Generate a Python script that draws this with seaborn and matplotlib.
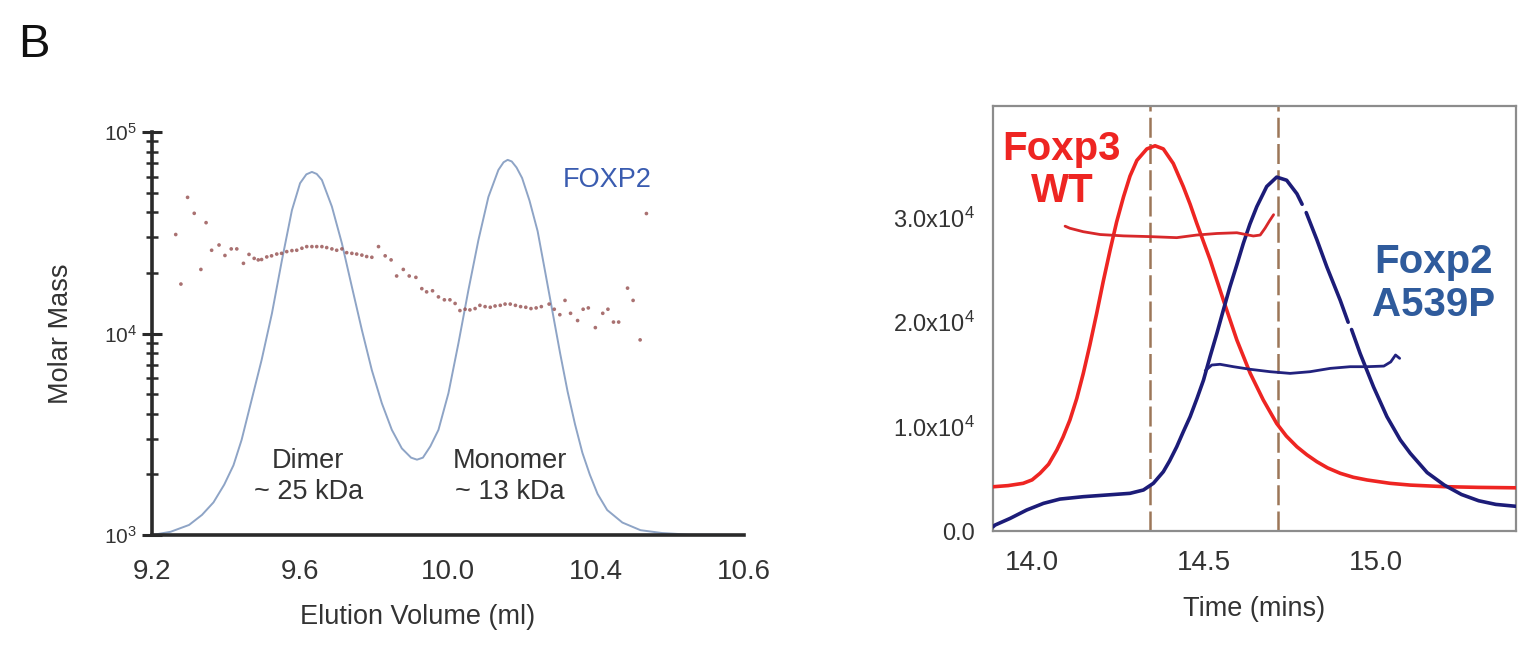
import numpy as np
import pandas as pd
import matplotlib
matplotlib.use("Agg")
import matplotlib.pyplot as plt
import seaborn as sns
from matplotlib.ticker import MultipleLocator, LogLocator, NullFormatter

# ---------------- data: left panel (FOXP2 SEC-MALS) ----------------
uv_volume = [9.20, 9.25, 9.30, 9.335, 9.366, 9.395, 9.42, 9.442, 9.469, 9.496, 9.524, 9.551,
             9.578, 9.60, 9.617, 9.632, 9.645, 9.659, 9.686, 9.713, 9.74, 9.767, 9.794,
             9.821, 9.848, 9.875, 9.90, 9.916, 9.932, 9.952, 9.974, 10.001, 10.028, 10.055,
             10.082, 10.109, 10.136, 10.15, 10.161, 10.172, 10.185, 10.20, 10.22, 10.242,
             10.262, 10.283, 10.303, 10.323, 10.343, 10.363, 10.383, 10.404, 10.43, 10.471,
             10.52, 10.578, 10.65, 10.80]
uv_signal = [0.0, 0.008, 0.025, 0.05, 0.081, 0.125, 0.173, 0.236, 0.335, 0.434, 0.55, 0.682,
             0.806, 0.873, 0.895, 0.901, 0.896, 0.881, 0.815, 0.724, 0.616, 0.509, 0.409,
             0.327, 0.261, 0.215, 0.192, 0.187, 0.192, 0.22, 0.261, 0.352, 0.476, 0.608,
             0.732, 0.839, 0.906, 0.925, 0.931, 0.927, 0.912, 0.886, 0.83, 0.754,
             0.655, 0.55, 0.45, 0.356, 0.275, 0.204, 0.15, 0.102, 0.062, 0.031,
             0.012, 0.005, 0.001, 0.0]

mm_volume = [9.264, 9.278, 9.296, 9.314, 9.332, 9.346, 9.361, 9.381, 9.397, 9.414, 9.429,
             9.447, 9.462, 9.476, 9.487, 9.496, 9.51, 9.523, 9.537, 9.55, 9.564, 9.578,
             9.591, 9.605, 9.618, 9.632, 9.645, 9.659, 9.672, 9.686, 9.699, 9.713, 9.726,
             9.74, 9.753, 9.767, 9.78, 9.794, 9.812, 9.83, 9.846, 9.861, 9.879, 9.895,
             9.913, 9.929, 9.942, 9.958, 9.974, 9.99, 10.005, 10.019, 10.032, 10.046,
             10.059, 10.073, 10.086, 10.1, 10.114, 10.127, 10.141, 10.154, 10.168, 10.182,
             10.196, 10.21, 10.224, 10.238, 10.252, 10.273, 10.287, 10.302, 10.316, 10.331,
             10.35, 10.365, 10.379, 10.398, 10.418, 10.432, 10.447, 10.461, 10.485, 10.5,
             10.519, 10.536]
mm_mass = [31000, 17600, 47400, 39500, 20800, 35500, 25900, 27500, 24400, 26300, 26300,
           22300, 24700, 23600, 23200, 23300, 24000, 24300, 24800, 25000, 25500, 25800,
           25900, 26500, 27000, 27000, 27000, 27000, 26700, 26300, 25900, 26300, 25200,
           25000, 24800, 24500, 24100, 23900, 27000, 24300, 23200, 19300, 20800, 19300,
           19000, 16700, 16100, 16300, 15200, 14700, 14700, 14100, 13000, 13200,
           13100, 13300, 13800, 13600, 13500, 13700, 13800, 14000, 14000, 13800,
           13600, 13500, 13300, 13400, 13600, 14000, 13200, 12400, 14600, 12600,
           11600, 13200, 13400, 10700, 12600, 13200, 11400, 11400, 16800, 14600,
           9300, 39400]

left_xticks = [9.2, 9.6, 10.0, 10.4, 10.8]
left_xticklabels = ["9.2", "9.6", "10.0", "10.4", "10.6"]
left_yticks = [1e3, 1e4, 1e5]
left_yticklabels = [r"$\mathregular{10^{3}}$", r"$\mathregular{10^{4}}$", r"$\mathregular{10^{5}}$"]

# ---------------- data: right panel ----------------
foxp3_t = [13.886, 13.93, 13.974, 14.0, 14.023, 14.048, 14.072, 14.09, 14.11, 14.13, 14.149,
           14.168, 14.188, 14.207, 14.227, 14.246, 14.266, 14.285, 14.305, 14.334, 14.358,
           14.382, 14.411, 14.44, 14.46, 14.479, 14.518, 14.557, 14.596, 14.635, 14.673,
           14.712, 14.74, 14.771, 14.8, 14.829, 14.86, 14.897, 14.935, 14.975, 15.042,
           15.101, 15.2, 15.3, 15.408]
foxp3_sig = [4240, 4350, 4570, 4900, 5530, 6400, 7760, 9000, 10630, 12700, 15100,
             17800, 20850, 23900, 26900, 29600, 32000, 34000, 35500, 36600, 36900,
             36600, 35200, 33000, 31300, 29500, 26000, 22100, 18300, 15100, 12550,
             10300, 9100, 8070, 7300, 6640, 6050, 5530, 5150, 4890, 4570,
             4400, 4250, 4180, 4140]

foxp2_t = [13.886, 13.892, 13.936, 13.984, 14.033, 14.081, 14.149, 14.217, 14.285, 14.324,
           14.353, 14.382, 14.40, 14.421, 14.44, 14.46, 14.48, 14.499, 14.518, 14.538,
           14.557, 14.576, 14.596, 14.615, 14.634, 14.654, 14.683, 14.712, 14.741, 14.771,
           14.786,
           14.798, 14.829, 14.858, 14.897, 14.92,
           14.93, 14.955, 14.994, 15.033, 15.072, 15.101, 15.15, 15.2, 15.25, 15.3,
           15.35, 15.408]
foxp2_sig = [400, 570, 1210, 2010, 2650, 3060, 3290, 3450, 3610, 3930,
             4570, 5680, 6700, 8070, 9500, 10950, 12700, 14460, 16700, 18940,
             21200, 23400, 25500, 27560, 29400, 31060, 33000, 33900, 33600, 32300,
             31300,
             30500, 27900, 25300, 22100, 20000,
             19300, 17000, 13800, 10950, 8720, 7440, 5600, 4400, 3500, 2900,
             2550, 2370]
foxp2_segment = [1] * 31 + [2] * 5 + [3] * 12

foxp3_mm_t = [14.096, 14.11, 14.149, 14.198, 14.266, 14.343, 14.421, 14.479, 14.538, 14.596,
              14.644, 14.664, 14.678, 14.691, 14.703]
foxp3_mm = [29200, 29000, 28670, 28400, 28270, 28200, 28100, 28350, 28500, 28570,
            28260, 28350, 29000, 29700, 30300]

foxp2_mm_t = [14.504, 14.523, 14.547, 14.586, 14.635, 14.693, 14.751, 14.809, 14.868,
              14.926, 14.975, 15.024, 15.044, 15.058, 15.07]
foxp2_mm = [15350, 15900, 15970, 15740, 15490, 15260, 15100, 15260, 15580,
            15740, 15740, 15800, 16200, 16860, 16540]

peak_times = [14.343, 14.716]
right_xticks = [14.0, 14.5, 15.0]
right_xticklabels = ["14.0", "14.5", "15.0"]
right_yticks = [0, 1e4, 2e4, 3e4]
right_yticklabels = ["0.0", r"$\mathregular{1.0x10^{4}}$", r"$\mathregular{2.0x10^{4}}$",
                     r"$\mathregular{3.0x10^{4}}$"]

# ---------------- style ----------------
sns.set_theme(style="white")
plt.rcParams["font.family"] = ["Liberation Sans", "DejaVu Sans"]
plt.rcParams["mathtext.fontset"] = "custom"
plt.rcParams["mathtext.rm"] = "Liberation Sans"
plt.rcParams["mathtext.it"] = "Liberation Sans:italic"
plt.rcParams["mathtext.bf"] = "Liberation Sans:bold"

fig = plt.figure(figsize=(15.22, 6.45), dpi=100)
fig.patch.set_facecolor("white")

# ---------------- left panel ----------------
axL = fig.add_axes([0.0999, 0.1705, 0.3890, 0.6248])
axC = axL.twinx()
uv_df = pd.DataFrame({"v": uv_volume, "s": uv_signal})
sns.lineplot(data=uv_df, x="v", y="s", ax=axC, color="#8ea4c6", lw=1.4,
             sort=False, estimator=None)
axC.set_ylim(0, 1)
axC.set_axis_off()

mm_df = pd.DataFrame({"v": mm_volume, "m": mm_mass})
axL.set_yscale("log")
sns.scatterplot(data=mm_df, x="v", y="m", ax=axL, color="#9a5858", s=7,
                marker="o", edgecolor="none", alpha=0.85)
axL.set_zorder(axC.get_zorder() + 1)
axL.patch.set_visible(False)

axL.set_xlim(9.2, 10.8)
axL.set_ylim(1e3, 1e5)
axL.set_xticks(left_xticks)
axL.set_xticklabels(left_xticklabels, fontsize=20, color="#333333")
axL.xaxis.set_minor_locator(MultipleLocator(0.1))
axL.set_yticks(left_yticks)
axL.set_yticklabels(left_yticklabels, fontsize=15, color="#333333")
axL.yaxis.set_minor_locator(LogLocator(base=10, subs=np.arange(2, 10)))
axL.yaxis.set_minor_formatter(NullFormatter())
axL.tick_params(axis="both", which="major", direction="inout", length=14, width=2.2,
                color="#2a2a2a")
axL.tick_params(axis="both", which="minor", direction="inout", length=9, width=1.8,
                color="#2a2a2a")
axL.tick_params(axis="x", which="major", pad=10)
axL.tick_params(axis="y", which="major", pad=4)
for side in ["top", "right"]:
    axL.spines[side].set_visible(False)
for side in ["left", "bottom"]:
    axL.spines[side].set_linewidth(2.6)
    axL.spines[side].set_color("#2a2a2a")
axL.set_xlabel("Elution Volume (ml)", fontsize=19.5, color="#333333")
axL.set_ylabel("Molar Mass", fontsize=19.5, color="#333333")
axL.xaxis.set_label_coords(0.449, -0.17)
axL.yaxis.set_label_coords(-0.132, 0.5)

axL.text(10.43, 5.8e4, "FOXP2", fontsize=19.5, color="#3a5cb0", ha="center", va="center")
axL.text(9.622, 10**3.29, "Dimer\n~ 25 kDa", fontsize=19.5, color="#333333",
         ha="center", va="center", linespacing=1.25)
axL.text(10.168, 10**3.29, "Monomer\n~ 13 kDa", fontsize=19.5, color="#333333",
         ha="center", va="center", linespacing=1.25)

# ---------------- right panel ----------------
axR = fig.add_axes([0.6524, 0.1767, 0.3435, 0.6596])
for t in peak_times:
    axR.axvline(t, color="#9c7658", lw=1.8, dashes=(8, 2.5), zorder=1)

sns.lineplot(x=foxp3_t, y=foxp3_sig, ax=axR, color="#ee2522", lw=2.6, sort=False,
             estimator=None, zorder=3)
foxp2_df = pd.DataFrame({"t": foxp2_t, "s": foxp2_sig, "seg": foxp2_segment})
sns.lineplot(data=foxp2_df, x="t", y="s", units="seg", ax=axR, color="#1c1c78", lw=2.6,
             sort=False, estimator=None, zorder=3)
sns.lineplot(x=foxp3_mm_t, y=foxp3_mm, ax=axR, color="#d8282a", lw=2.0, sort=False,
             estimator=None, zorder=4)
sns.lineplot(x=foxp2_mm_t, y=foxp2_mm, ax=axR, color="#22227e", lw=2.0, sort=False,
             estimator=None, zorder=4)

axR.set_xlim(13.886, 15.408)
axR.set_ylim(0, 40750)
axR.set_xticks(right_xticks)
axR.set_xticklabels(right_xticklabels, fontsize=20, color="#333333")
axR.xaxis.set_minor_locator(MultipleLocator(0.1))
axR.set_yticks(right_yticks)
axR.set_yticklabels(right_yticklabels, fontsize=17, color="#333333")
axR.tick_params(axis="x", which="major", direction="in", length=5, width=1.2,
                color="#999999", pad=14)
axR.tick_params(axis="x", which="minor", direction="in", length=4, width=1.0,
                color="#999999")
axR.tick_params(axis="y", which="major", direction="out", length=5, width=1.2,
                color="#999999", pad=8)
for side in ["top", "right", "left", "bottom"]:
    axR.spines[side].set_visible(True)
    axR.spines[side].set_linewidth(1.6)
    axR.spines[side].set_color("#8c8c8c")
axR.set_xlabel("Time (mins)", fontsize=19.5, color="#333333", labelpad=14)
axR.set_ylabel("")

axR.text(14.087, 34600, "Foxp3\nWT", fontsize=29, fontweight="bold", color="#ee2522",
         ha="center", va="center", linespacing=1.15)
axR.text(15.168, 23700, "Foxp2\nA539P", fontsize=29, fontweight="bold", color="#2f5b9c",
         ha="center", va="center", linespacing=1.15)

fig.text(0.012, 0.93, "B", fontsize=34, color="#111111", ha="left", va="center")

fig.savefig("out.png", dpi=100, facecolor="white")
